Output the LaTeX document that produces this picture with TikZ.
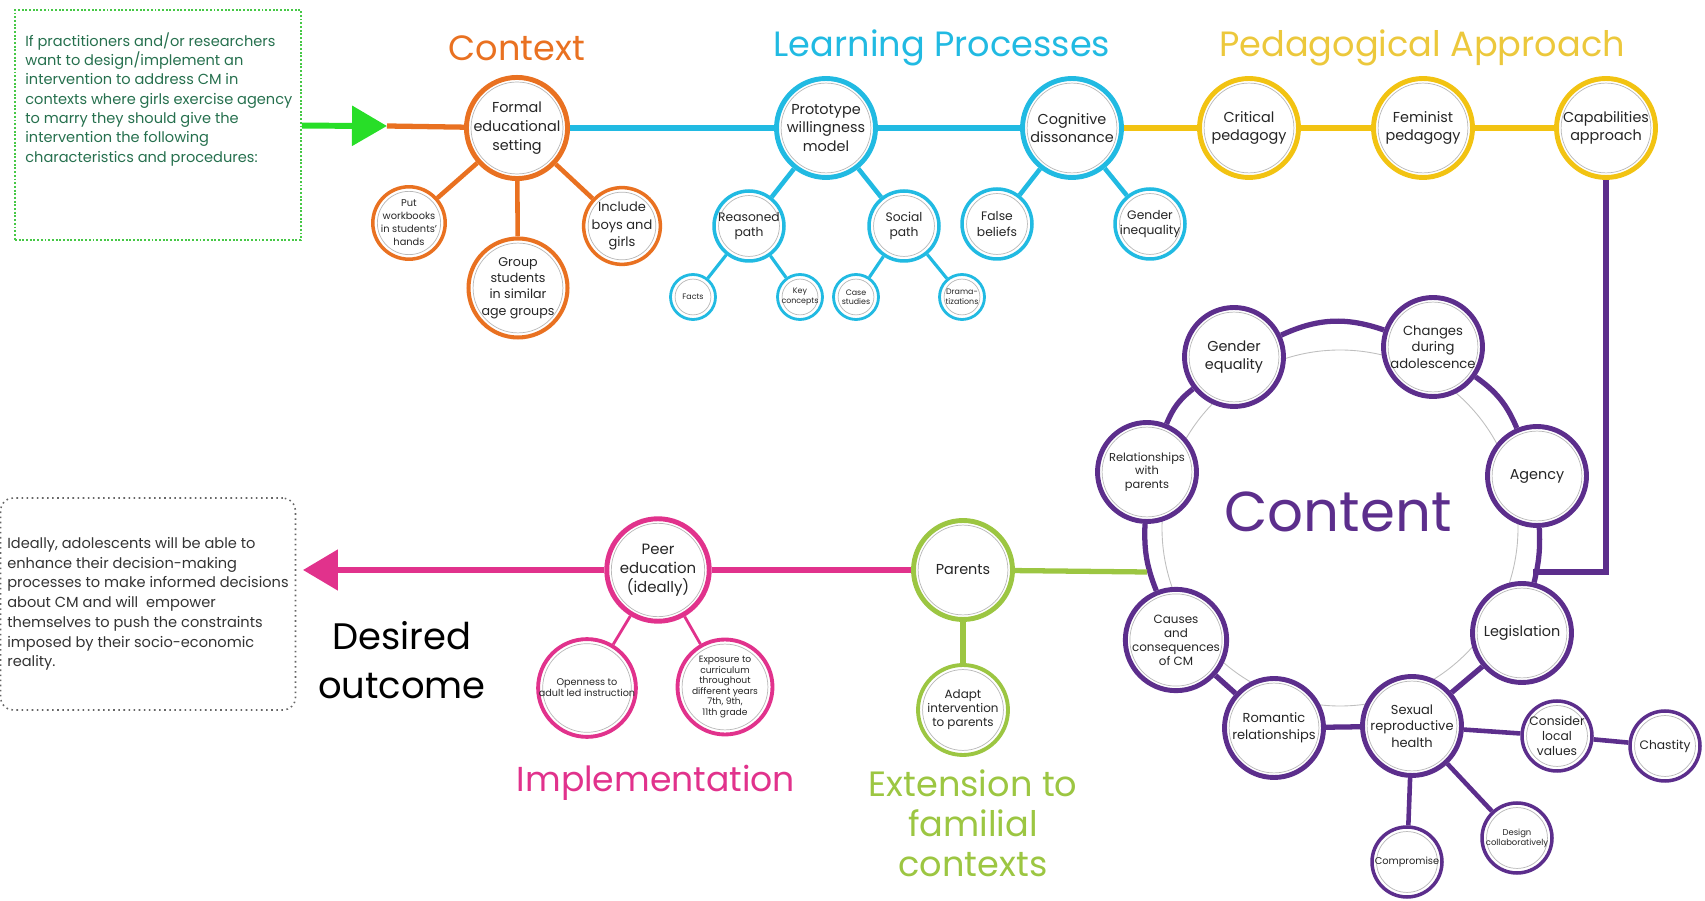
\documentclass[tikz,border=0pt]{standalone}
\usepackage{fontspec}
\setmainfont{Poppins}
\usetikzlibrary{arrows.meta,calc}

\definecolor{ctxorange}{RGB}{233,113,33}
\definecolor{lpcyan}{RGB}{33,186,226}
\definecolor{payellow}{RGB}{242,195,18}
\definecolor{patext}{RGB}{236,200,60}
\definecolor{conpurple}{RGB}{92,46,140}
\definecolor{extgreen}{RGB}{156,198,66}
\definecolor{imppink}{RGB}{225,50,140}
\definecolor{startgreen}{RGB}{40,222,40}
\definecolor{introtext}{RGB}{38,112,78}
\definecolor{boxgreen}{RGB}{70,200,70}

\tikzset{
	bubble/.style={circle,fill=white,align=center,inner sep=0pt,text=black!85,
		path picture={\draw[black!28,line width=0.4pt]
			let \p1=(path picture bounding box.north), \p2=(path picture bounding box.center)
			in (\p2) circle ({\y1-\y2-2.6pt});}},
	main/.style={bubble,minimum size=1.98cm,line width=2.8pt,font=\fontsize{8.2}{10.6}\selectfont},
	sub/.style={bubble,minimum size=1.4cm,line width=2pt,font=\fontsize{7}{8.6}\selectfont},
	leaf/.style={bubble,minimum size=0.9cm,line width=1.6pt,font=\fontsize{4.5}{5.4}\selectfont},
	heading/.style={font=\fontsize{20}{25}\selectfont,align=center},
	spine/.style={line width=3pt},
	branch/.style={line width=2.6pt}
}

\begin{document}
\begin{tikzpicture}[x=0.02cm,y=-0.02cm]
	\useasboundingbox (0,0) rectangle (1705,901);

	% starting box
	\node[draw=boxgreen,densely dotted,line width=1.1pt,minimum width=5.72cm,minimum height=4.6cm] (intro) at (158,125) {};
	\node[anchor=north west,inner sep=0pt,align=left,text=introtext,font=\fontsize{8.3}{11}\selectfont] (introtxt) at (25,32)
		{If practitioners and/or researchers\\want to design/implement an\\intervention to address CM in\\contexts where girls exercise agency\\to marry they should give the\\intervention the following\\characteristics and procedures:};
	\coordinate (gtip) at (387,126);

	% headings
	\node[heading,text=ctxorange] (ctxhead) at (517,48) {Context};
	\node[heading,text=lpcyan] (lphead) at (942,48) {Learning Processes};
	\node[heading,text=patext] (pahead) at (1422,48) {Pedagogical Approach};
	\node[text=conpurple,font=\fontsize{32}{38}\selectfont] (conhead) at (1338,512) {Content};
	\node[heading,text=imppink,font=\fontsize{19.7}{24}\selectfont] (imphead) at (656,783) {Implementation};
	\node[heading,text=extgreen,font=\fontsize{20}{22.7}\selectfont] (exthead) at (973,823) {Extension to\\familial\\contexts};
	\node[heading,text=black,font=\fontsize{21}{27.8}\selectfont] (desired) at (402,660) {Desired\\outcome};

	% context
	\node[main,draw=ctxorange] (formal) at (517,128) {Formal\\educational\\setting};
	\node[sub,draw=ctxorange,font=\fontsize{5.6}{7.4}\selectfont] (workbooks) at (409,223) {Put\\workbooks\\in students'\\hands};
	\node[main,draw=ctxorange,line width=2.3pt,font=\fontsize{7.2}{9.3}\selectfont] (group) at (518,288) {Group\\students\\in similar\\age groups};
	\node[sub,draw=ctxorange,font=\fontsize{7.4}{9.8}\selectfont] (boys) at (622,226) {Include\\boys and\\girls};

	% learning processes
	\node[main,draw=lpcyan] (proto) at (826,128) {Prototype\\willingness\\model};
	\node[main,draw=lpcyan] (cogdis) at (1072,128) {Cognitive\\dissonance};
	\node[sub,draw=lpcyan] (reasoned) at (749,226) {Reasoned\\path};
	\node[sub,draw=lpcyan] (social) at (904,226) {Social\\path};
	\node[sub,draw=lpcyan] (falseb) at (997,224) {False\\beliefs};
	\node[sub,draw=lpcyan] (genineq) at (1150,224) {Gender\\inequality};
	\node[leaf,draw=lpcyan] (facts) at (693,297) {Facts};
	\node[leaf,draw=lpcyan] (keycon) at (800,297) {Key\\concepts};
	\node[leaf,draw=lpcyan] (cases) at (856,297) {Case\\studies};
	\node[leaf,draw=lpcyan] (drama) at (962,297) {Drama-\\tizations};

	% pedagogical approach
	\node[main,draw=payellow] (critical) at (1249,128) {Critical\\pedagogy};
	\node[main,draw=payellow] (feminist) at (1423,128) {Feminist\\pedagogy};
	\node[main,draw=payellow] (capab) at (1606,128) {Capabilities\\approach};

	% content ring
	\coordinate (hub) at (1340,528);
	\draw[black!25,line width=0.5pt] (hub) circle[radius=178];
	\node[main,draw=conpurple] (geneq) at (1234,357) {Gender\\equality};
	\node[main,draw=conpurple,font=\fontsize{7.5}{9.4}\selectfont] (changes) at (1433,347) {Changes\\during\\adolescence};
	\node[main,draw=conpurple] (agency) at (1537,476) {Agency};
	\node[main,draw=conpurple] (legis) at (1522,633) {Legislation};
	\node[main,draw=conpurple,font=\fontsize{7.4}{9.4}\selectfont] (sexual) at (1412,726) {Sexual\\reproductive\\health};
	\node[main,draw=conpurple,font=\fontsize{7.4}{9.4}\selectfont] (romantic) at (1274,728) {Romantic\\relationships};
	\node[main,draw=conpurple,font=\fontsize{6.8}{8}\selectfont] (causes) at (1176,640) {Causes\\and\\consequences\\of CM};
	\node[main,draw=conpurple,font=\fontsize{6.5}{7.6}\selectfont] (relpar) at (1147,472) {Relationships\\with\\parents};
	\node[sub,draw=conpurple] (localval) at (1557,736) {Consider\\local\\values};
	\node[sub,draw=conpurple] (chastity) at (1665,746) {Chastity};
	\node[sub,draw=conpurple,font=\fontsize{4.8}{5.6}\selectfont] (design) at (1517,838) {Design\\collaboratively};
	\node[sub,draw=conpurple,font=\fontsize{5.6}{7}\selectfont] (compromise) at (1407,862) {Compromise};
	\coordinate (rjoin) at (1533,572);
	\coordinate (ljoin) at (1147,572);

	% familial and implementation
	\node[main,draw=extgreen] (parents) at (963,570) {Parents};
	\node[main,draw=extgreen,minimum size=1.8cm,line width=2.2pt,font=\fontsize{6.8}{8}\selectfont] (adapt) at (963,710) {Adapt\\intervention\\to parents};
	\node[main,draw=imppink,minimum size=2.05cm,font=\fontsize{8.5}{10.8}\selectfont] (peer) at (658,570) {Peer\\education\\(ideally)};
	\node[main,draw=imppink,minimum size=1.9cm,line width=2.2pt,font=\fontsize{5.5}{6.4}\selectfont] (openness) at (587,688) {Openness to\\adult led instruction};
	\node[main,draw=imppink,minimum size=1.9cm,line width=2.2pt,font=\fontsize{5.2}{6}\selectfont] (exposure) at (725,687) {Exposure to\\curriculum\\throughout\\different years\\7th, 9th,\\11th grade};
	\coordinate (outtip) at (303,570);

	% outcome box
	\node[draw=black!60,dotted,line width=0.9pt,rounded corners=0.25cm,minimum width=5.9cm,minimum height=4.24cm,
		align=left,text=black!80,font=\fontsize{8.3}{11.2}\selectfont] (outcome) at (148,604)
		{Ideally, adolescents will be able to\\enhance their decision-making\\processes to make informed decisions\\about CM and will\ \ empower\\themselves to push the constraints\\imposed by their socio-economic\\reality.};

	% connectors
	\draw[spine,ctxorange] (gtip) -- (formal);
	\draw[line width=3.4pt,startgreen,-{Triangle[length=0.7cm,width=0.78cm]}] (intro) -- (gtip);
	\draw[branch,ctxorange] (formal) -- (workbooks);
	\draw[branch,ctxorange] (formal) -- (group);
	\draw[branch,ctxorange] (formal) -- (boys);
	\draw[spine,lpcyan] (formal) -- (proto);
	\draw[spine,lpcyan] (proto) -- (cogdis);
	\draw[branch,lpcyan] (proto) -- (reasoned);
	\draw[branch,lpcyan] (proto) -- (social);
	\draw[branch,lpcyan] (cogdis) -- (falseb);
	\draw[branch,lpcyan] (cogdis) -- (genineq);
	\draw[line width=1.8pt,lpcyan] (reasoned) -- (facts);
	\draw[line width=1.8pt,lpcyan] (reasoned) -- (keycon);
	\draw[line width=1.8pt,lpcyan] (social) -- (cases);
	\draw[line width=1.8pt,lpcyan] (social) -- (drama);
	\draw[spine,payellow] (cogdis) -- (critical);
	\draw[spine,payellow] (critical) -- (feminist);
	\draw[spine,payellow] (feminist) -- (capab);
	\draw[spine,conpurple] (capab) |- (rjoin);
	\draw[spine,conpurple] (geneq) to[bend left=22] (changes);
	\draw[spine,conpurple] (changes) to[bend left=16] (agency);
	\draw[spine,conpurple] (agency) to[bend left=8] (legis);
	\draw[spine,conpurple] (legis) -- (sexual);
	\draw[spine,conpurple] (sexual) -- (romantic);
	\draw[spine,conpurple] (romantic) -- (causes);
	\draw[spine,conpurple] (causes) to[bend left=12] (relpar);
	\draw[spine,conpurple] (relpar) to[bend left=15] (geneq);
	\draw[branch,conpurple] (sexual) -- (localval);
	\draw[branch,conpurple] (localval) -- (chastity);
	\draw[branch,conpurple] (sexual) -- (design);
	\draw[branch,conpurple] (sexual) -- (compromise);
	\draw[spine,extgreen] (ljoin) -- (parents);
	\draw[spine,extgreen] (parents) -- (adapt);
	\draw[spine,imppink] (parents) -- (peer);
	\draw[spine,imppink,-{Triangle[length=0.7cm,width=0.8cm]}] (peer) -- (outtip);
	\draw[line width=1.6pt,imppink] (peer) -- (openness);
	\draw[line width=1.6pt,imppink] (peer) -- (exposure);
\end{tikzpicture}
\end{document}
